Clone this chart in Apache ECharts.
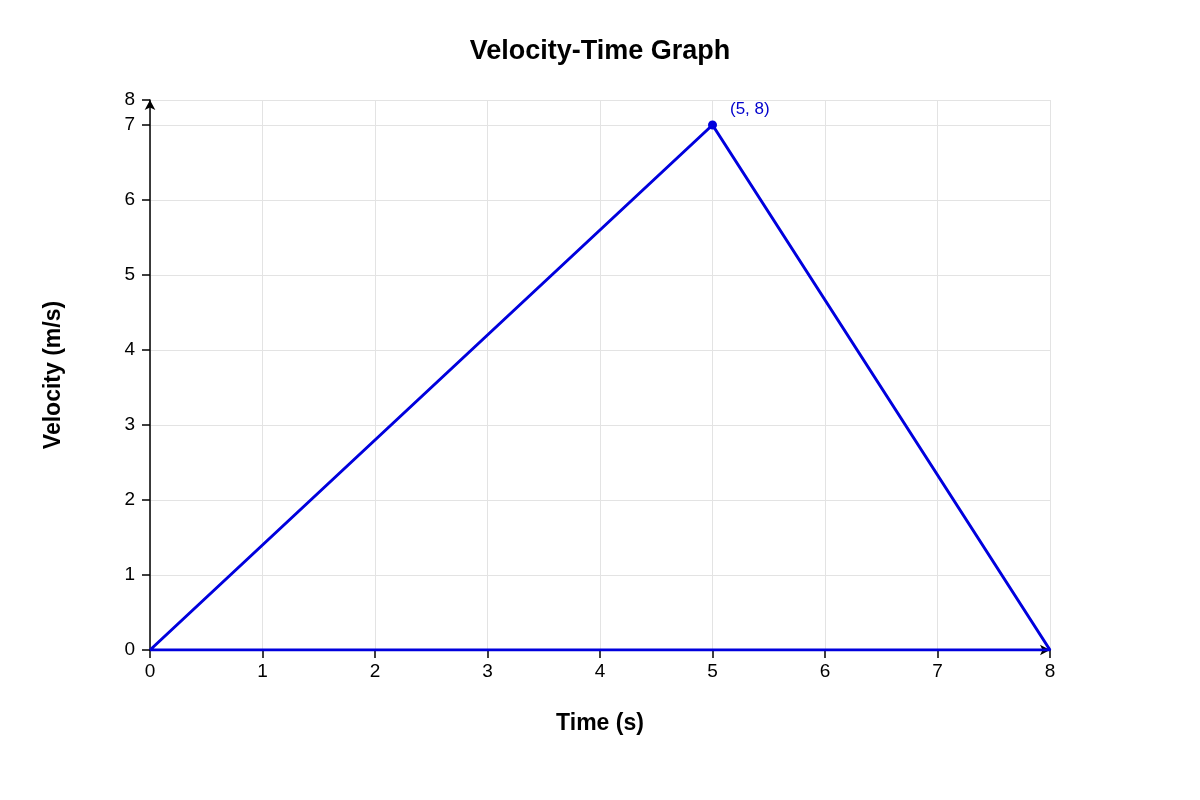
<!DOCTYPE html>
<html><head><meta charset="utf-8">
<script src="https://cdn.jsdelivr.net/npm/echarts@6/dist/echarts.min.js"></script>
<style>html,body{margin:0;background:#fff}#c{width:1200px;height:800px}</style>
</head><body><div id="c"></div>
<script>
const times = [0, 5, 8, 0];
const velocities = [0, 7, 0, 0];
const peakLabel = '(5, 8)';
const yMaxLabel = '8';

const data = times.map((t, i) => ({
  value: [t, velocities[i]],
  symbolSize: i === 1 ? 9 : 0,
  label: i === 1 ? {show: true, formatter: peakLabel, position: 'right', offset: [8, -16], color: '#0000cc', fontSize: 17, fontFamily: 'Liberation Sans'} : {show: false}
}));

const chart = echarts.init(document.getElementById('c'));
const axisCommon = {
  axisLine: {show: true, lineStyle: {color: '#000', width: 1.5}, symbol: ['none', 'arrow'], symbolSize: [8, 10]},
  axisTick: {show: true, length: 8, lineStyle: {color: '#000', width: 1.5}},
  splitLine: {show: true, lineStyle: {color: '#e3e3e3'}},
  axisLabel: {color: '#000', fontSize: 19, fontFamily: 'Liberation Sans'},
  nameTextStyle: {color: '#000', fontSize: 23, fontWeight: 'bold', fontFamily: 'Liberation Sans'}
};
chart.setOption({
  animation: false,
  title: {text: 'Velocity-Time Graph', left: 'center', top: 33, textStyle: {fontSize: 27, fontWeight: 'bold', color: '#000', fontFamily: 'Liberation Sans'}},
  grid: {left: 150, right: 150, top: 100, bottom: 150},
  xAxis: Object.assign({}, axisCommon, {type: 'value', min: 0, max: 8, interval: 1, name: 'Time (s)', nameLocation: 'middle', nameGap: 62,
    axisLabel: Object.assign({}, axisCommon.axisLabel, {margin: 12})}),
  yAxis: Object.assign({}, axisCommon, {type: 'value', min: 0, max: 22 / 3, interval: 1, name: 'Velocity (m/s)', nameLocation: 'middle', nameGap: 85,
    axisLabel: Object.assign({}, axisCommon.axisLabel, {margin: 15, formatter: v => v > 7.1 ? yMaxLabel : String(v)})}),
  series: [{type: 'line', data: data, symbol: 'circle', showAllSymbol: true,
    lineStyle: {color: '#0000dd', width: 3}, itemStyle: {color: '#0000dd'}}]
});
</script></body></html>
